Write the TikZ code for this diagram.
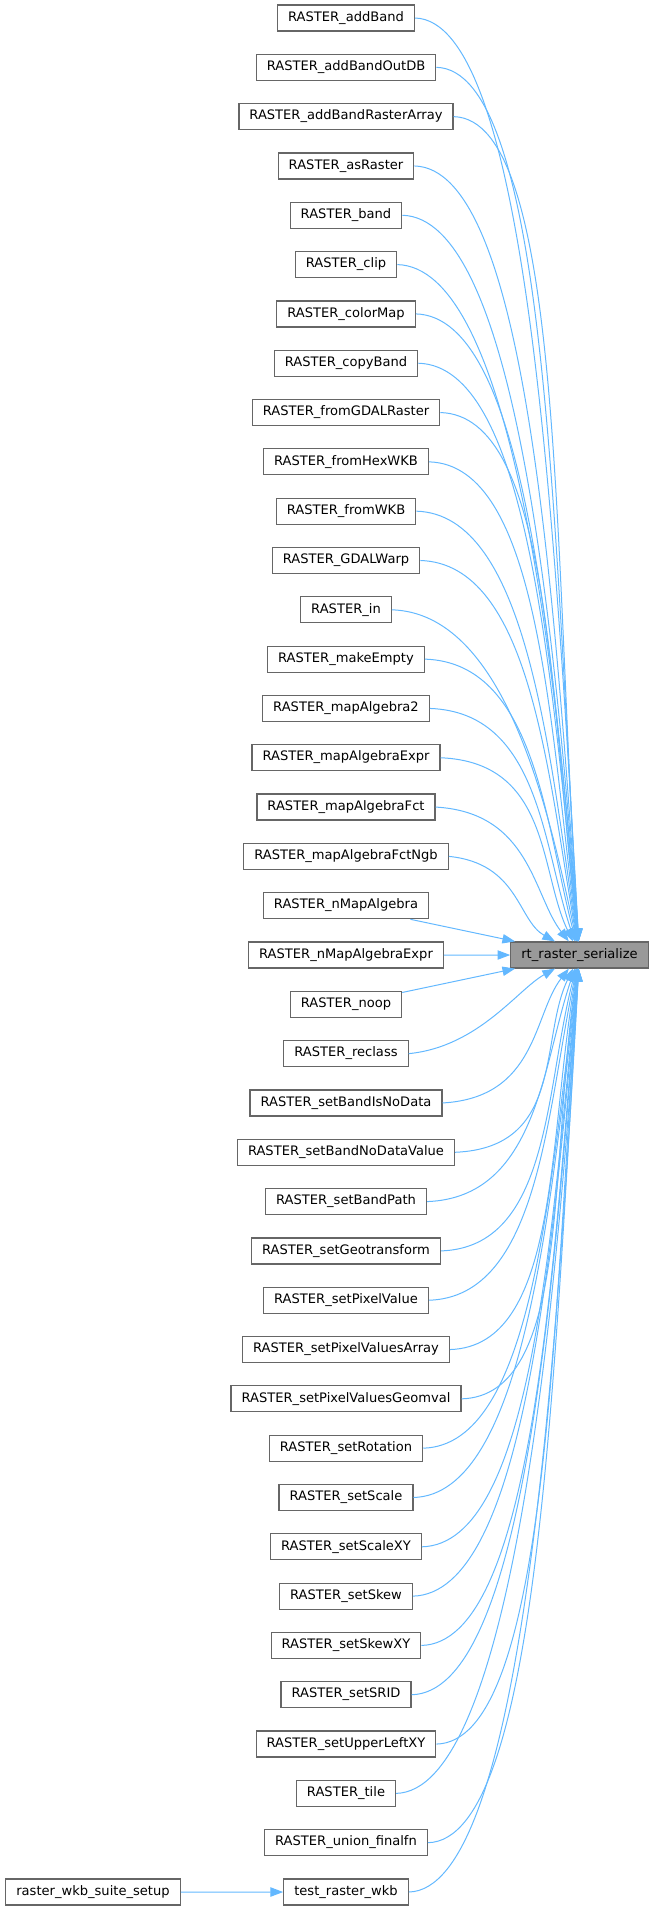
\documentclass[tikz,border=0pt]{standalone}
\usepackage{fontspec}
\setmainfont{DejaVu Sans}
\usetikzlibrary{arrows.meta,calc}
\definecolor{edgeblue}{RGB}{99,184,255}
\definecolor{boxgray}{RGB}{102,102,102}
\definecolor{hilite}{RGB}{153,153,153}
\tikzset{
  fn/.style={draw=boxgray,line width=0.9pt,fill=white,inner xsep=7.9pt,inner ysep=0pt,
    minimum height=19.5pt,text height=7.2pt,text depth=2.4pt},
  caller/.style={edgeblue,line width=0.75pt,-{Triangle[length=9.5pt,width=7pt]}}
}
\begin{document}
\begin{tikzpicture}[x=0.75pt,y=-0.75pt,font=\fontsize{9.8}{12}\selectfont]
  \useasboundingbox (0,0) rectangle (655,1911);
  % callers, one column
  \foreach \lbl [count=\i] in {RASTER\_addBand,RASTER\_addBandOutDB,RASTER\_addBandRasterArray,
      RASTER\_asRaster,RASTER\_band,RASTER\_clip,RASTER\_colorMap,RASTER\_copyBand,
      RASTER\_fromGDALRaster,RASTER\_fromHexWKB,RASTER\_fromWKB,RASTER\_GDALWarp,RASTER\_in,
      RASTER\_makeEmpty,RASTER\_mapAlgebra2,RASTER\_mapAlgebraExpr,RASTER\_mapAlgebraFct,
      RASTER\_mapAlgebraFctNgb,RASTER\_nMapAlgebra,RASTER\_nMapAlgebraExpr,RASTER\_noop,
      RASTER\_reclass,RASTER\_setBandIsNoData,RASTER\_setBandNoDataValue,RASTER\_setBandPath,
      RASTER\_setGeotransform,RASTER\_setPixelValue,RASTER\_setPixelValuesArray,
      RASTER\_setPixelValuesGeomval,RASTER\_setRotation,RASTER\_setScale,RASTER\_setScaleXY,
      RASTER\_setSkew,RASTER\_setSkewXY,RASTER\_setSRID,RASTER\_setUpperLeftXY,RASTER\_tile,
      RASTER\_union\_finalfn,test\_raster\_wkb}
    \node[fn] (r\i) at (346,{18+(\i-1)*49.316}) {\lbl};
  \node[fn,fill=hilite] (ser) at (579.5,955) {rt\_raster\_serialize};
  \node[fn] (setup) at (93,1892) {raster\_wkb\_suite\_setup};
  % edges into rt_raster_serialize
  \foreach \i in {1,...,39}{
    \pgfmathtruncatemacro\d{abs(\i-20)}
    \pgfmathsetmacro\s{sign(20-\i)}
    \ifnum\d<2
      \draw[caller] (r\i) -- (ser);
    \else
      \pgfmathsetmacro\M{0.5*\d*49.316-15}
      \pgfmathsetmacro\dt{22.5/(\d-1)^1.2}
      \pgfmathsetmacro\cx{min(110,20+25*\d)}
      \pgfmathsetmacro\cy{\s*(2+10/\d)}
      \draw[caller] (r\i.east) .. controls +(\cx,\cy) and ($(ser.center)+(-\dt*\M/12.5,-\s*\M)$) .. (ser);
    \fi
  }
  \draw[caller] (setup) -- (r39);
\end{tikzpicture}
\end{document}
